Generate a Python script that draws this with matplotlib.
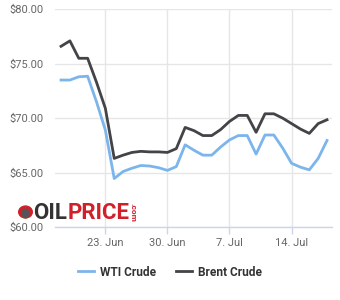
import matplotlib
matplotlib.use("Agg")
import matplotlib.pyplot as plt
import matplotlib.dates as mdates
import pandas as pd
from matplotlib.patches import Circle, Ellipse

dates = pd.date_range("2025-06-18", "2025-07-18", freq="D")
wti = [73.5, 73.5, 73.8, 73.85, 71.5, 68.9, 64.45, 65.1, 65.4, 65.65, 65.6, 65.45, 65.2,
       65.55, 67.55, 67.05, 66.6, 66.6, 67.35, 68.0, 68.4, 68.4, 66.7, 68.45, 68.45,
       67.25, 65.85, 65.5, 65.25, 66.3, 67.95]
brent = [76.6, 77.1, 75.5, 75.5, 73.3, 70.9, 66.3, 66.6, 66.85, 66.95, 66.9, 66.9, 66.85,
         67.2, 69.15, 68.85, 68.4, 68.4, 68.95, 69.7, 70.25, 70.25, 68.7, 70.4, 70.4,
         70.0, 69.5, 69.0, 68.6, 69.5, 69.85]
series_names = ["WTI Crude", "Brent Crude"]
x_tick_dates = ["2025-06-23", "2025-06-30", "2025-07-07", "2025-07-14"]
x_tick_labels = ["23. Jun", "30. Jun", "7. Jul", "14. Jul"]
y_ticks = [60, 65, 70, 75, 80]
y_tick_labels = ["$60.00", "$65.00", "$70.00", "$75.00", "$80.00"]

plt.rcParams['font.family'] = ['Roboto', 'DejaVu Sans']

fig = plt.figure(figsize=(3.4, 3.0), dpi=100)
ax = fig.add_axes([55/340, 73/300, 277/340, (227-9.3)/300])

ax.plot(dates, wti, color="#7cb5ec", lw=2, label=series_names[0], solid_joinstyle="round", zorder=3)
ax.plot(dates, brent, color="#434348", lw=2, label=series_names[1], solid_joinstyle="round", zorder=3)

ax.set_xlim(mdates.date2num(dates[0]) - 0.68, mdates.date2num(dates[-1]) + 0.56)
ax.set_ylim(60, 80)
ax.set_yticks(y_ticks)
ax.set_yticklabels(y_tick_labels)
ax.set_xticks([mdates.date2num(pd.Timestamp(d)) for d in x_tick_dates])
ax.set_xticklabels(x_tick_labels)

for s in ["top", "right", "left"]:
    ax.spines[s].set_visible(False)
ax.spines["bottom"].set_color("#ccd6eb")
ax.spines["bottom"].set_linewidth(1)
ax.grid(True, color="#e6e6e6", lw=1, zorder=0)
ax.tick_params(axis="y", length=0, pad=8, labelsize=8, labelcolor="#666666")
ax.tick_params(axis="x", length=5, width=1, color="#ccd6eb", pad=3, labelsize=8, labelcolor="#666666")

leg = fig.legend(loc="center", bbox_to_anchor=(0.5, 28/300), ncol=2, frameon=False,
                 handlelength=1.35, handletextpad=0.5, columnspacing=1.7,
                 prop={"size": 8.6, "weight": "bold"})
for t in leg.get_texts():
    t.set_color("#333333")

# OILPRICE.com watermark logo
fig.patches.append(Circle((25.5/340, 1-212/300), 7.5/340, transform=fig.transFigure,
                          facecolor="#d0202a", edgecolor="none", zorder=5))
fig.patches.append(Ellipse((25.5/340, 1-213.5/300), 8/340, 10/300, transform=fig.transFigure,
                           facecolor="#555555", edgecolor="none", zorder=6))
fig.text(33/340, 1-213/300, "OIL", fontsize=16, weight="bold", color="#333333",
         va="center", ha="left", zorder=7)
fig.text(68/340, 1-213/300, "PRICE", fontsize=16, weight="bold", color="#d0202a",
         va="center", ha="left", zorder=7)
fig.text(133/340, 1-212/300, ".com", fontsize=6, weight="bold", color="#d0202a",
         va="center", ha="center", rotation=-90, zorder=7)

fig.savefig("out.png", dpi=100)
